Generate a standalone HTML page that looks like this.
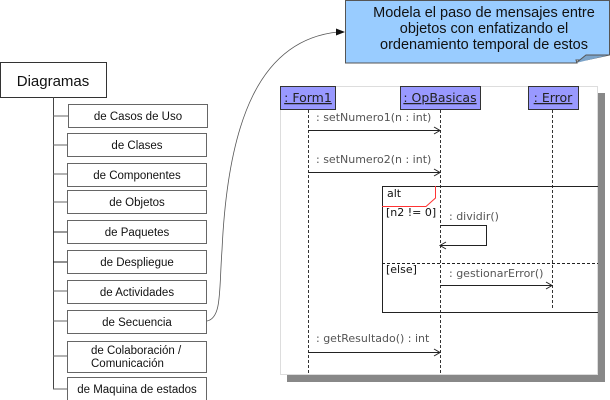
<!DOCTYPE html>
<html><head><meta charset="utf-8"><style>
body{margin:0;width:610px;height:400px;background:#fff;overflow:hidden;font-family:"Liberation Sans",sans-serif}
svg{position:absolute;left:0;top:0}
</style></head><body>
<svg width="610" height="400" viewBox="0 0 610 400" font-family="Liberation Sans, sans-serif">
<rect x="0.5" y="62.5" width="106" height="35" fill="#fff" stroke="#333"/>
<text x="53" y="86" font-size="15" text-anchor="middle" fill="#111">Diagramas</text>
<line x1="53.5" y1="97" x2="53.5" y2="389" stroke="#444"/>
<g stroke="#666" fill="#fff">
<line x1="53" y1="116" x2="68" y2="116"/><line x1="53" y1="145" x2="67" y2="145"/>
<line x1="53" y1="174" x2="67" y2="174"/><line x1="53" y1="202" x2="67" y2="202"/>
<line x1="53" y1="232" x2="67" y2="232" stroke="#333"/><line x1="53" y1="262" x2="67" y2="262" stroke="#222"/>
<line x1="53" y1="291" x2="67" y2="291"/><line x1="53" y1="321" x2="67" y2="321"/>
<line x1="53" y1="356" x2="67" y2="356"/><line x1="53" y1="389" x2="67" y2="389"/>
<rect x="68.5" y="104.5" width="139" height="23"/>
<rect x="67.5" y="133.5" width="139" height="23"/>
<rect x="67.5" y="163.5" width="139" height="23"/>
<rect x="67.5" y="190.5" width="139" height="23"/>
<rect x="67.5" y="220.5" width="139" height="23"/>
<rect x="67.5" y="250.5" width="139" height="23"/>
<rect x="67.5" y="280.5" width="139" height="23"/>
<rect x="67.5" y="310.5" width="139" height="23"/>
<rect x="67.5" y="341.5" width="139" height="31"/>
<rect x="67.5" y="377.5" width="139" height="24"/>
</g>
<g font-size="11.5" fill="#111" text-anchor="middle">
<text x="138" y="120">de Casos de Uso</text>
<text x="137" y="149">de Clases</text>
<text x="137" y="179">de Componentes</text>
<text x="137" y="206">de Objetos</text>
<text x="137" y="236">de Paquetes</text>
<text x="137" y="266">de Despliegue</text>
<text x="137" y="296">de Actividades</text>
<text x="137" y="326">de Secuencia</text>
<text x="91" y="354" text-anchor="start">de Colaboración /</text>
<text x="91" y="367" text-anchor="start">Comunicación</text>
<text x="137" y="393">de Maquina de estados</text>
</g>
<path d="M207 321 C222 318 219 290 222 250 C228 120 260 40 338 32" fill="none" stroke="#555" stroke-width="0.8"/>
<polygon points="345,32 336,28.5 336,35.5" fill="#111"/>
<path d="M345.5 0.5 H609.5 V55 L586 60 H576 L577 63 H345.5 Z" fill="#99ccff" stroke="#555"/>
<path d="M576 63 L586 55 L609 55" fill="#7ba3c9" stroke="#555"/>
<g font-size="14.5" fill="#111" text-anchor="middle">
<text x="484" y="17">Modela el paso de mensajes entre</text>
<text x="484" y="33">objetos con enfatizando el</text>
<text x="484" y="49">ordenamiento temporal de estos</text>
</g>
<rect x="287" y="93" width="318" height="289" fill="#888"/>
<rect x="280.5" y="86.5" width="317" height="288" fill="#fff" stroke="#ddd"/>
<g stroke="#333" stroke-dasharray="3,2">
<line x1="308.5" y1="110" x2="308.5" y2="374"/>
<line x1="440.5" y1="110" x2="440.5" y2="374"/>
<line x1="552.5" y1="110" x2="552.5" y2="308"/>
</g>
<g fill="#9999ff" stroke="#333">
<rect x="280.5" y="86.5" width="55" height="23"/>
<rect x="400.5" y="86.5" width="80" height="23"/>
<rect x="528.5" y="86.5" width="50" height="23"/>
</g>
<g font-size="12.5" fill="#222" text-anchor="middle" text-decoration="underline" font-family="DejaVu Sans, sans-serif">
<text x="308" y="102">: Form1</text>
<text x="440" y="102">: OpBasicas</text>
<text x="553" y="102">: Error</text>
</g>
<g font-size="11" fill="#555" font-family="DejaVu Sans, sans-serif">
<text x="316" y="121">: setNumero1(n : int)</text>
<text x="316" y="163">: setNumero2(n : int)</text>
<text x="449" y="220">: dividir()</text>
<text x="449" y="277">: gestionarError()</text>
<text x="316" y="342">: getResultado() : int</text>
</g>
<g stroke="#222" fill="none">
<line x1="308" y1="130.5" x2="440" y2="130.5"/><path d="M434 127 L440 130.5 L434 134"/>
<line x1="308" y1="172.5" x2="440" y2="172.5"/><path d="M434 169 L440 172.5 L434 176"/>
<path d="M440 225.5 H486.5 V245.5 H440"/><path d="M446 242 L440 245.5 L446 249"/>
<line x1="440" y1="285.5" x2="552" y2="285.5"/><path d="M546 282 L552 285.5 L546 289"/>
<line x1="308" y1="352.5" x2="440" y2="352.5"/><path d="M434 349 L440 352.5 L434 356"/>
<path d="M598 186.5 H382.5 V312.5 H598"/>
<line x1="382" y1="263.5" x2="598" y2="263.5" stroke-dasharray="3,2"/>
</g>
<path d="M382 206.5 H426 L435.5 198 V186" fill="none" stroke="#f33"/>
<g font-size="11" fill="#111" font-family="DejaVu Sans, sans-serif">
<text x="387" y="197">alt</text>
<text x="386" y="216">[n2 != 0]</text>
<text x="386" y="273">[else]</text>
</g>
</svg>
</body></html>
